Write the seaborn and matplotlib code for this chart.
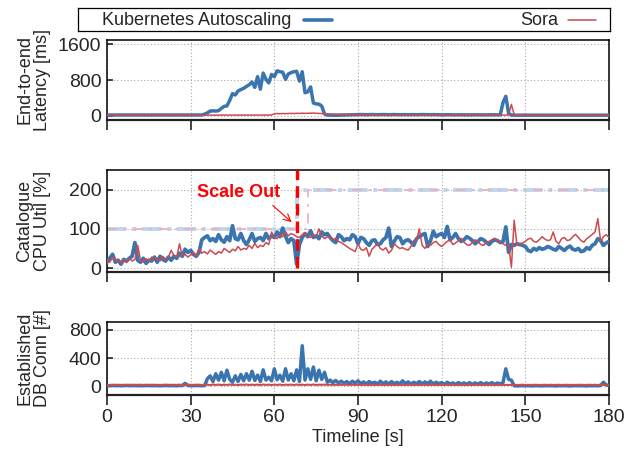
import matplotlib
matplotlib.use("Agg")
import matplotlib.pyplot as plt
import numpy as np
import pandas as pd
import seaborn as sns

sns.set_theme(style="white")
plt.rcParams['font.family'] = ['Liberation Sans', 'DejaVu Sans']

# ---------------- data ----------------
time_s = list(range(0, 181))
x_ticks = [0, 30, 60, 90, 120, 150, 180]

series_names = ["Kubernetes Autoscaling", "Sora"]

lat_k8s = [
    22, 22, 23, 22, 22, 23, 22, 22, 23, 22,
    22, 23, 22, 22, 22, 23, 22, 22, 23, 22,
    22, 22, 23, 22, 22, 22, 23, 22, 22, 22,
    23, 22, 22, 23, 22, 40, 70, 110, 115, 110,
    120, 170, 215, 225, 350, 500, 470, 560, 590, 620,
    660, 700, 760, 640, 880, 600, 960, 820, 740, 930,
    880, 1010, 990, 980, 820, 940, 970, 990, 1000, 780,
    990, 520, 540, 650, 290, 270, 265, 220, 45, 20,
    18, 15, 16, 18, 20, 22, 25, 28, 30, 28,
    30, 32, 30, 28, 30, 33, 30, 28, 30, 32,
    30, 28, 30, 32, 30, 28, 30, 30, 28, 30,
    30, 28, 30, 32, 30, 28, 28, 30, 28, 26,
    26, 25, 28, 26, 25, 24, 25, 26, 24, 25,
    25, 24, 25, 26, 24, 25, 24, 25, 26, 25,
    25, 25, 300, 440, 60, 20, 18, 18, 18, 18,
    18, 18, 18, 18, 18, 18, 18, 18, 18, 18,
    18, 18, 18, 18, 18, 18, 18, 18, 18, 18,
    18, 18, 18, 18, 18, 18, 18, 18, 18, 18, 18,
]
lat_sora = [
    18, 18, 19, 18, 18, 18, 19, 18, 18, 18,
    18, 19, 18, 18, 18, 18, 19, 18, 18, 18,
    18, 18, 19, 18, 18, 18, 18, 19, 18, 18,
    18, 18, 19, 18, 18, 18, 19, 18, 18, 18,
    19, 18, 18, 18, 19, 18, 18, 18, 19, 18,
    18, 18, 19, 18, 18, 18, 19, 18, 20, 25,
    45, 55, 50, 55, 52, 55, 58, 55, 60, 58,
    62, 58, 60, 62, 65, 60, 58, 55, 48, 45,
    42, 40, 38, 38, 36, 35, 34, 32, 30, 30,
    28, 28, 27, 26, 25, 25, 24, 24, 23, 22,
    21, 20, 20, 21, 20, 20, 21, 20, 20, 20,
    21, 20, 20, 20, 21, 20, 20, 20, 21, 20,
    20, 20, 21, 20, 20, 20, 21, 20, 20, 20,
    21, 20, 20, 20, 21, 20, 20, 20, 21, 20,
    20, 20, 20, 20, 25, 260, 30, 20, 18, 18,
    18, 18, 18, 18, 18, 18, 18, 18, 18, 18,
    18, 18, 18, 18, 18, 18, 18, 18, 18, 18,
    18, 18, 18, 18, 18, 18, 18, 18, 18, 18, 18,
]

cpu_k8s = [
    15, 25, 35, 15, 20, 10, 22, 18, 25, 30,
    65, 20, 15, 25, 12, 20, 18, 28, 15, 30,
    22, 18, 28, 20, 30, 25, 38, 30, 48, 40,
    45, 35, 30, 40, 72, 78, 82, 70, 75, 68,
    85, 72, 66, 80, 70, 108, 75, 72, 88, 70,
    60, 72, 88, 68, 75, 78, 70, 88, 75, 82,
    78, 92, 80, 102, 82, 65, 75, 70, 10, 60,
    78, 88, 80, 95, 78, 82, 75, 92, 85, 88,
    78, 70, 65, 85, 80, 70, 75, 72, 85, 80,
    62, 78, 75, 65, 58, 70, 72, 60, 62, 72,
    78, 102, 55, 68, 80, 78, 62, 70, 72, 66,
    58, 75, 80, 85, 88, 55, 70, 94, 80, 85,
    88, 78, 106, 72, 78, 88, 75, 68, 72, 80,
    76, 70, 62, 68, 75, 72, 66, 60, 68, 72,
    70, 65, 68, 105, 40, 60, 58, 62, 60, 58,
    55, 45, 42, 50, 46, 52, 48, 50, 55, 52,
    48, 46, 55, 50, 45, 52, 56, 48, 46, 50,
    42, 44, 52, 48, 58, 62, 75, 70, 58, 64, 68,
]
cpu_sora = [
    20, 15, 28, 18, 22, 12, 20, 14, 25, 18,
    22, 58, 20, 15, 24, 18, 28, 22, 25, 18,
    30, 22, 28, 45, 32, 28, 62, 30, 35, 28,
    34, 40, 30, 50, 38, 42, 36, 46, 40, 35,
    42, 38, 50, 45, 40, 48, 44, 55, 46, 50,
    48, 58, 50, 63, 52, 58, 55, 65, 60, 92,
    78, 75, 85, 80, 92, 82, 88, 85, 80, 78,
    85, 90, 82, 78, 85, 80, 100, 82, 75, 80,
    78, 72, 76, 68, 65, 60, 55, 50, 46, 42,
    62, 48, 45, 52, 30, 48, 55, 62, 50, 46,
    52, 38, 45, 62, 55, 50, 52, 48, 46, 55,
    70, 72, 100, 58, 50, 60, 58, 65, 68, 60,
    55, 62, 68, 72, 60, 64, 70, 76, 66, 60,
    58, 65, 72, 68, 60, 58, 65, 68, 72, 76,
    70, 64, 62, 58, 60, 2, 122, 58, 62, 64,
    68, 74, 76, 68, 66, 72, 80, 74, 70, 72,
    92, 68, 62, 75, 78, 70, 72, 80, 86, 78,
    70, 66, 75, 80, 86, 92, 126, 68, 80, 85, 78,
]

# CPU limits (step changes)
limit_k8s_t = [0, 68, 68, 180]
limit_k8s_v = [100, 100, 200, 200]
limit_sora_t = [0, 72, 72, 180]
limit_sora_v = [100, 100, 200, 200]
scale_out_t = 68
scale_out_label = "Scale Out"

db_k8s = [
    12, 10, 14, 11, 13, 10, 12, 14, 11, 12,
    13, 11, 12, 10, 14, 12, 11, 13, 12, 10,
    12, 14, 11, 13, 12, 10, 14, 12, 45, 13,
    12, 11, 14, 12, 10, 13, 110, 150, 70, 180,
    90, 200, 80, 230, 100, 60, 150, 70, 170, 80,
    180, 90, 215, 85, 160, 70, 235, 90, 130, 80,
    250, 95, 160, 75, 250, 90, 180, 80, 235, 70,
    575, 90, 250, 100, 275, 80, 230, 100, 200, 60,
    90, 55, 85, 50, 75, 45, 70, 40, 75, 45,
    80, 40, 65, 35, 70, 45, 60, 35, 75, 40,
    65, 35, 70, 40, 60, 35, 80, 40, 65, 35,
    60, 40, 70, 35, 65, 40, 75, 35, 60, 40,
    55, 30, 60, 35, 50, 30, 55, 35, 50, 30,
    55, 30, 50, 35, 55, 30, 50, 35, 55, 30,
    50, 35, 55, 250, 100, 90, 10, 8, 10, 12,
    10, 12, 8, 10, 12, 10, 8, 12, 10, 12,
    10, 8, 12, 10, 12, 10, 8, 10, 12, 10,
    12, 10, 8, 12, 10, 12, 10, 14, 60, 20, 15,
]
db_sora = [
    22, 23, 22, 24, 22, 23, 22, 22, 24, 23,
    22, 23, 24, 22, 23, 22, 24, 23, 22, 23,
    22, 24, 23, 22, 23, 24, 22, 23, 22, 24,
    23, 22, 23, 24, 22, 23, 26, 20, 28, 22,
    27, 20, 26, 22, 28, 21, 26, 20, 27, 23,
    28, 21, 26, 22, 27, 20, 28, 22, 26, 21,
    27, 22, 28, 20, 26, 23, 27, 21, 28, 22,
    26, 20, 27, 22, 28, 21, 26, 23, 27, 22,
    26, 21, 25, 22, 26, 23, 25, 22, 24, 23,
    24, 22, 23, 24, 22, 23, 22, 24, 23, 22,
    23, 24, 22, 23, 22, 24, 23, 22, 23, 24,
    22, 23, 22, 24, 23, 22, 23, 24, 22, 23,
    22, 24, 23, 22, 23, 24, 22, 23, 22, 24,
    23, 22, 23, 24, 22, 23, 22, 24, 23, 22,
    23, 24, 22, 23, 22, 24, 23, 22, 23, 24,
    22, 23, 22, 24, 23, 22, 23, 24, 22, 23,
    22, 24, 23, 22, 23, 24, 22, 23, 22, 24,
    23, 22, 23, 24, 22, 23, 22, 24, 23, 22, 23,
]

ylabels = ["End-to-end\nLatency [ms]", "Catalogue\nCPU Util [%]", "Established\nDB Conn [#]"]
yticks_list = [[0, 800, 1600], [0, 100, 200], [0, 400, 800]]
ylims = [(-90, 1700), (-10, 250), (-120, 910)]
xlabel = "Timeline [s]"

# ---------------- style ----------------
BLUE = "#3b75af"
RED = "#cc4a50"
LBLUE = "#bdd7ee"
PINK = "#f2aab8"
FS = 13
TFS = 14

fig = plt.figure(figsize=(6.29, 4.5), dpi=100)
W, H = 629.0, 450.0
left, right = 107 / W, 609 / W
rects = [(40, 120), (170, 272), (322, 395)]
axes = []
for (top, bot) in rects:
    ax = fig.add_axes([left, 1 - bot / H, right - left, (bot - top) / H])
    axes.append(ax)

df_lat = pd.DataFrame({"t": time_s, "k8s": lat_k8s, "sora": lat_sora})
df_cpu = pd.DataFrame({"t": time_s, "k8s": cpu_k8s, "sora": cpu_sora})
df_db = pd.DataFrame({"t": time_s, "k8s": db_k8s, "sora": db_sora})

# Latency
ax = axes[0]
sns.lineplot(data=df_lat, x="t", y="k8s", ax=ax, color=BLUE, lw=2.5, legend=False, zorder=3)
sns.lineplot(data=df_lat, x="t", y="sora", ax=ax, color=RED, lw=1.1, legend=False, zorder=4)

# CPU
ax = axes[1]
ax.plot(limit_k8s_t, limit_k8s_v, color=LBLUE, lw=2.8, ls=(0, (5, 1.5, 1, 1.5)), zorder=2)
ax.plot(limit_sora_t, limit_sora_v, color=PINK, lw=1.2, ls=(0, (6, 4, 1.5, 4)), zorder=2)
sns.lineplot(data=df_cpu, x="t", y="k8s", ax=ax, color=BLUE, lw=2.7, legend=False, zorder=3)
sns.lineplot(data=df_cpu, x="t", y="sora", ax=ax, color=RED, lw=1.1, legend=False, zorder=4)
ax.plot([scale_out_t, scale_out_t], [0, 250], color="#ff0000", lw=2.4,
        ls=(0, (3.5, 1.8)), zorder=5)
ax.annotate(scale_out_label, xy=(66.2, 117), xytext=(47.3, 192),
            ha="center", va="center", color="#ff0000", fontsize=FS, fontweight="bold",
            arrowprops=dict(arrowstyle="->", color="#ff0000", lw=0.8,
                            relpos=(0.85, 0.0), shrinkA=1, shrinkB=0), zorder=6)

# DB conn
ax = axes[2]
sns.lineplot(data=df_db, x="t", y="k8s", ax=ax, color=BLUE, lw=2.5, legend=False, zorder=3)
sns.lineplot(data=df_db, x="t", y="sora", ax=ax, color=RED, lw=1.5, legend=False, zorder=4)

for i, ax in enumerate(axes):
    ax.set_xlim(0, 180)
    ax.set_ylim(*ylims[i])
    ax.set_xticks(x_ticks)
    ax.set_yticks(yticks_list[i])
    ax.grid(True, color="#a8a8a8", lw=0.8, ls=(0, (1, 2)))
    ax.set_axisbelow(True)
    for s in ax.spines.values():
        s.set_visible(True)
        s.set_color("black")
        s.set_linewidth(1.1)
    ax.spines["bottom"].set_linewidth(1.6)
    ax.spines["bottom"].set_color("#222222")
    ax.tick_params(axis="x", direction="out", length=7, width=1.3, color="#333333",
                   labelsize=TFS, pad=3, bottom=True)
    ax.tick_params(axis="y", direction="in", length=4, width=1.2, labelsize=TFS, pad=4, left=True)
    ax.set_ylabel(ylabels[i], fontsize=FS, linespacing=1.05)
    ax.yaxis.set_label_coords(-0.112, 0.5)
    if i < 2:
        ax.set_xticklabels([])
        ax.set_xlabel("")
    else:
        ax.set_xlabel(xlabel, fontsize=FS, labelpad=2)

# legend box
lax = fig.add_axes([78 / W, 1 - 31 / H, 532 / W, 23 / H])
lax.set_xlim(0, 1)
lax.set_ylim(0, 1)
lax.set_xticks([])
lax.set_yticks([])
for s in lax.spines.values():
    s.set_visible(True)
    s.set_color("black")
    s.set_linewidth(0.9)
lax.set_facecolor("white")
lax.text(0.402, 0.45, series_names[0], ha="right", va="center", fontsize=FS)
lax.plot([0.425, 0.477], [0.5, 0.5], color=BLUE, lw=2.6)
lax.text(0.902, 0.45, series_names[1], ha="right", va="center", fontsize=FS)
lax.plot([0.921, 0.974], [0.5, 0.5], color=RED, lw=1.1)

fig.savefig("out.png", dpi=100)
